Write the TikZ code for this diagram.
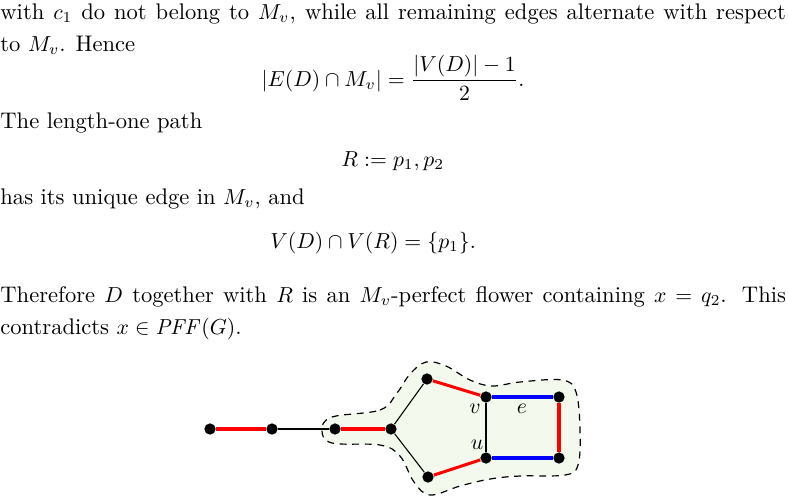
\documentclass[tikz,border=0pt]{standalone}
\usepackage{amsmath}
\begin{document}
\begin{tikzpicture}[x=0.4608pt,y=-0.4608pt,
  dot/.style={circle,fill=black,inner sep=0pt,minimum size=5.2pt},
  redge/.style={red,line width=1.4pt},
  bedge/.style={blue,line width=1.4pt},
  kedge/.style={black,line width=0.5pt},
  txt/.style={anchor=base west,inner sep=0pt,font=\fontsize{10.4pt}{12pt}\selectfont}]
\useasboundingbox (0,0) rectangle (788,502);
\node[txt] (l1) at (0,19) {\makebox[362pt][s]{with $c_1$ do not belong to $M_v$, while all remaining edges alternate with respect}};
\node[txt] (l2) at (0,51) {to $M_v$. Hence};
\node[inner sep=0pt,font=\fontsize{10.4pt}{12pt}\selectfont] (eq1) at (393,78) {$\displaystyle |E(D)\cap M_v| = \frac{|V(D)|-1}{2}.$};
\node[txt] (l3) at (0,128) {The length-one path};
\node[txt] (eq2) at (341,166) {$R := p_1, p_2$};
\node[txt] (l4) at (0,204) {has its unique edge in $M_v$, and};
\node[txt] (eq3) at (270,248) {$V(D)\cap V(R) = \{p_1\}.$};
\node[txt] (l5) at (0,302) {\makebox[362pt][s]{Therefore $D$ together with $R$ is an $M_v$-perfect flower containing $x = q_2$. This}};
\node[txt] (l6) at (0,334) {contradicts $x \in \mathit{PFF}(G)$.};

\fill[green!40!olive!7!white] plot[smooth cycle,tension=0.6] coordinates {(332,417) (380,410) (397,393) (410,374) (426,362) (446,366) (470,380) (492,386) (520,382) (562,380) (576,392) (580,430) (578,465) (565,475) (520,476) (490,479) (460,486) (430,495) (414,482) (400,456) (380,445) (332,443) (322,430)};
\draw[dash pattern=on 3.2pt off 2.6pt,line width=0.55pt] plot[smooth cycle,tension=0.6] coordinates {(332,417) (380,410) (397,393) (410,374) (426,362) (446,366) (470,380) (492,386) (520,382) (562,380) (576,392) (580,430) (578,465) (565,475) (520,476) (490,479) (460,486) (430,495) (414,482) (400,456) (380,445) (332,443) (322,430)};

\node[dot] (a) at (210,429) {};
\node[dot] (b) at (272,429) {};
\node[dot] (c) at (335,429) {};
\node[dot] (d) at (391,429) {};
\node[dot] (t) at (427,379) {};
\node[dot] (s) at (428,477) {};
\node[dot] (v) at (486,397) {};
\node[dot] (w) at (559,397) {};
\node[dot] (u) at (486,458) {};
\node[dot] (x) at (559,458) {};
\draw[redge] (a) -- (b);
\draw[kedge] (b) -- (c);
\draw[redge] (c) -- (d);
\draw[kedge] (d) -- (t);
\draw[kedge] (d) -- (s);
\draw[redge] (t) -- (v);
\draw[redge] (s) -- (u);
\draw[kedge] (v) -- (u);
\draw[bedge] (v) -- (w);
\draw[bedge] (u) -- (x);
\draw[redge] (w) -- (x);
\node (lv) at (475,409) {$v$};
\node (lu) at (477,445) {$u$};
\node (le) at (522,409) {$e$};
\end{tikzpicture}
\end{document}
